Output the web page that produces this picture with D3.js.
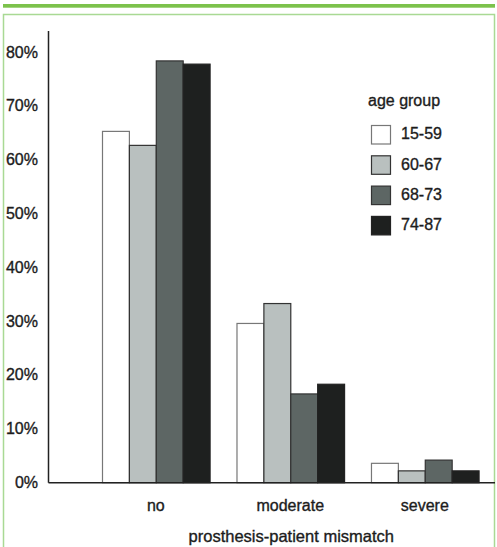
<!DOCTYPE html>
<html>
<head>
<meta charset="utf-8">
<script src="https://cdn.jsdelivr.net/npm/d3@7/dist/d3.min.js"></script>
<style>
  body { margin: 0; background: #fff; }
  text {
    font-family: "Liberation Sans", Arial, sans-serif;
    fill: #1c1c1c;
    stroke: #1c1c1c;
    stroke-width: 0.35px;
  }
</style>
</head>
<body>
<div id="chart"></div>
<script>
/** Data (percent) */
const categories = ["no", "moderate", "severe"];
const ageGroups = ["15-59", "60-67", "68-73", "74-87"];
const values1559 = [65.3, 29.6, 3.6];
const values6067 = [62.7, 33.3, 2.2];
const values6873 = [78.4, 16.5, 4.2];
const values7487 = [77.8, 18.3, 2.2];
const yTicks = [0, 10, 20, 30, 40, 50, 60, 70, 80];

const seriesValues = [values1559, values6067, values6873, values7487];
const fills = ["#ffffff", "#b9c0bf", "#5d6664", "#1e201f"];
const strokes = ["#777777", "#333333", "#333333", "#222222"];

/** Graph configs */
const width = 497;
const height = 547;
const axisX = 48.5;
const rightX = 495;
const zeroY = 482.7;
const topY = 31;

const svg = d3
  .select("#chart")
  .append("svg")
  .attr("width", width)
  .attr("height", height);

/** Green frame */
svg.append("rect")
  .attr("x", 3).attr("y", 4).attr("width", 492).attr("height", 3.7)
  .attr("fill", "#7cc24c");
svg.append("rect")
  .attr("x", 3.5).attr("y", 14.5).attr("width", 491).attr("height", 540)
  .attr("fill", "none").attr("stroke", "#a9d994").attr("stroke-width", 1.5);

/** Scales */
const x = d3.scaleBand()
  .domain(categories)
  .range([axisX, rightX])
  .paddingInner(0.2)
  .paddingOuter(0.26)
  .align(0.765);

const xInner = d3.scaleBand()
  .domain(ageGroups)
  .range([0, x.bandwidth()]);

const y = d3.scaleLinear()
  .domain([0, 80])
  .range([zeroY, zeroY - 8 * 53.8]);

/** Y tick labels */
svg.append("g")
  .selectAll("text")
  .data(yTicks)
  .join("text")
  .attr("x", 38)
  .attr("y", (d) => y(d) + 1)
  .attr("text-anchor", "end")
  .attr("dominant-baseline", "middle")
  .attr("font-size", 16)
  .text((d) => d + "%");

/** Bars */
const groups = svg.append("g")
  .selectAll("g")
  .data(categories)
  .join("g")
  .attr("transform", (d) => `translate(${x(d)},0)`);

groups.selectAll("rect")
  .data((c, ci) => ageGroups.map((g, gi) => ({ g, gi, v: seriesValues[gi][ci] })))
  .join("rect")
  .attr("x", (d) => xInner(d.g) + 0.5)
  .attr("y", (d) => y(d.v))
  .attr("width", xInner.bandwidth())
  .attr("height", (d) => zeroY - y(d.v))
  .attr("fill", (d) => fills[d.gi])
  .attr("stroke", (d) => strokes[d.gi])
  .attr("stroke-width", 1.2);

/** Axes lines */
svg.append("line")
  .attr("x1", axisX).attr("x2", axisX)
  .attr("y1", topY).attr("y2", zeroY)
  .attr("stroke", "#222").attr("stroke-width", 1.5);
svg.append("line")
  .attr("x1", axisX).attr("x2", rightX)
  .attr("y1", zeroY).attr("y2", zeroY)
  .attr("stroke", "#222").attr("stroke-width", 1.5);

/** Category labels */
svg.append("g")
  .selectAll("text")
  .data(categories)
  .join("text")
  .attr("x", (d) => x(d) + x.bandwidth() / 2)
  .attr("y", 507)
  .attr("text-anchor", "middle")
  .attr("dominant-baseline", "middle")
  .attr("font-size", 16)
  .text((d) => d);

svg.append("text")
  .attr("x", x("moderate") + x.bandwidth() / 2 + 1)
  .attr("y", 537.5)
  .attr("text-anchor", "middle")
  .attr("dominant-baseline", "middle")
  .attr("font-size", 16.5)
  .text("prosthesis-patient mismatch");

/** Legend */
const legend = svg.append("g").attr("transform", "translate(368,0)");
legend.append("text")
  .attr("x", 0).attr("y", 101.5)
  .attr("dominant-baseline", "middle")
  .attr("font-size", 16)
  .text("age group");

const items = legend.selectAll("g.item")
  .data(ageGroups)
  .join("g")
  .attr("class", "item")
  .attr("transform", (d, i) => `translate(0,${125 + i * 30.3})`);

items.append("rect")
  .attr("x", 3.5).attr("y", 0.5)
  .attr("width", 19).attr("height", 18.5)
  .attr("fill", (d, i) => fills[i])
  .attr("stroke", (d, i) => strokes[i])
  .attr("stroke-width", 1.2);

items.append("text")
  .attr("x", 33).attr("y", 10)
  .attr("dominant-baseline", "middle")
  .attr("font-size", 16)
  .text((d) => d);
</script>
</body>
</html>
